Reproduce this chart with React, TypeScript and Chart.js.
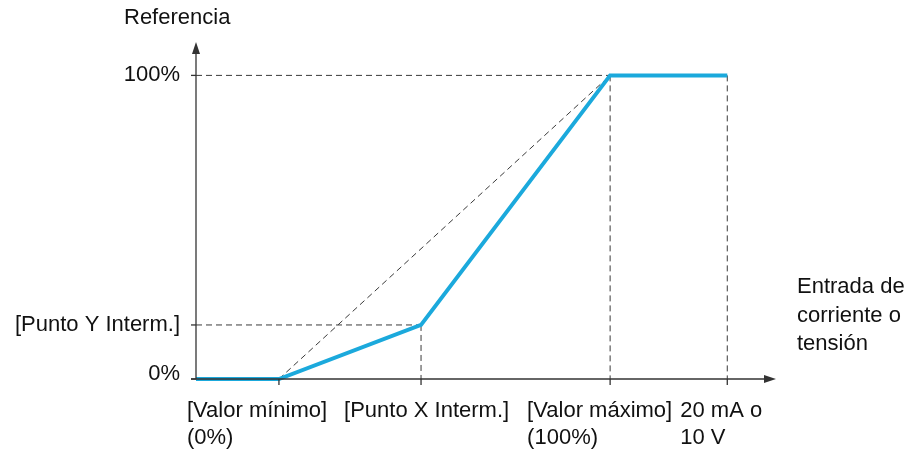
import React, { useEffect, useRef } from "react";
import { Chart, registerables } from "chart.js";

Chart.register(...registerables);

// x positions (relative units along the input axis, 0 = origin, 100 = arrow tip)
const xValorMinimo = 14.3;
const xPuntoXInterm = 38.8;
const xValorMaximo = 71.4;
const xFinal = 91.6; // 20 mA o 10 V
const xAxisMax = 100;

// y positions (% reference)
const yCero = 0;
const yPuntoYInterm = 17.8;
const yCien = 100;
const yAxisMax = 111;

const curveX = [0, xValorMinimo, xPuntoXInterm, xValorMaximo, xFinal];
const curveY = [yCero, yCero, yPuntoYInterm, yCien, yCien];

const yTickLabels = ["100%", "[Punto Y Interm.]", "0%"];
const yTickValues = [yCien, yPuntoYInterm, yCero];
const xTickLabels = [
  ["[Valor mínimo]", "(0%)"],
  ["[Punto X Interm.]"],
  ["[Valor máximo]", "(100%)"],
  ["20 mA o", "10 V"],
];
const xTickValues = [xValorMinimo, xPuntoXInterm, xValorMaximo, xFinal];
const yAxisTitle = "Referencia";
const xAxisTitle = ["Entrada de", "corriente o", "tensión"];

const BLUE = "#1ba9dc";
const GUIDE = "#3a3a3a";
const AXIS = "#333333";
const FONT = '22px "Liberation Sans", Arial, sans-serif';

function pts(xs: number[], ys: number[]) {
  return xs.map((x, i) => ({ x, y: ys[i] }));
}

const guideDs = (data: { x: number; y: number }[]) => ({
  data,
  borderColor: GUIDE,
  borderWidth: 1,
  borderDash: [6, 4],
  pointRadius: 0,
  fill: false,
  tension: 0,
  clip: false,
  order: 1,
});

const axesPlugin = {
  id: "axesPlugin",
  afterDatasetsDraw(chart: any) {
    const ctx = chart.ctx;
    const xs = chart.scales.x;
    const ys = chart.scales.y;
    const x0 = xs.getPixelForValue(0);
    const y0 = ys.getPixelForValue(0);
    const xEnd = xs.getPixelForValue(xAxisMax);
    const yTop = ys.getPixelForValue(yAxisMax);
    ctx.save();
    ctx.strokeStyle = AXIS;
    ctx.fillStyle = AXIS;
    ctx.lineWidth = 1.3;
    // y axis
    ctx.beginPath();
    ctx.moveTo(x0, y0);
    ctx.lineTo(x0, yTop + 10);
    ctx.stroke();
    ctx.beginPath();
    ctx.moveTo(x0, yTop);
    ctx.lineTo(x0 - 4, yTop + 12);
    ctx.lineTo(x0 + 4, yTop + 12);
    ctx.closePath();
    ctx.fill();
    // x axis
    ctx.beginPath();
    ctx.moveTo(x0 - 5, y0);
    ctx.lineTo(xEnd - 10, y0);
    ctx.stroke();
    ctx.beginPath();
    ctx.moveTo(xEnd, y0);
    ctx.lineTo(xEnd - 12, y0 - 4);
    ctx.lineTo(xEnd - 12, y0 + 4);
    ctx.closePath();
    ctx.fill();
    // y ticks
    yTickValues.forEach((v) => {
      const py = ys.getPixelForValue(v);
      ctx.beginPath();
      ctx.moveTo(x0 - 5, py);
      ctx.lineTo(x0, py);
      ctx.stroke();
    });
    // x ticks
    xTickValues.forEach((v) => {
      const px = xs.getPixelForValue(v);
      ctx.beginPath();
      ctx.moveTo(px, y0);
      ctx.lineTo(px, y0 + 6);
      ctx.stroke();
    });
    // labels
    ctx.fillStyle = "#111111";
    ctx.font = FONT;
    ctx.textBaseline = "middle";
    ctx.textAlign = "right";
    yTickValues.forEach((v, i) => {
      const py = ys.getPixelForValue(v);
      const off = v === yCero ? -5 : 0;
      ctx.fillText(yTickLabels[i], x0 - 16, py + off);
    });
    ctx.textAlign = "left";
    ctx.fillText(yAxisTitle, x0 - 72, 18);
    const xOffsets = [-92, -77, -83, -47];
    xTickValues.forEach((v, i) => {
      const px = xs.getPixelForValue(v);
      xTickLabels[i].forEach((line, j) => {
        ctx.fillText(line, px + xOffsets[i], y0 + 32 + j * 27);
      });
    });
    xAxisTitle.forEach((line, j) => {
      ctx.fillText(line, xEnd + 21, y0 - 92 + j * 28.5);
    });
    ctx.restore();
  },
};

export default function App() {
  const ref = useRef<HTMLCanvasElement | null>(null);
  useEffect(() => {
    if (!ref.current) return;
    const chart = new Chart(ref.current, {
      type: "line",
      data: {
        datasets: [
          {
            data: pts(curveX, curveY),
            borderColor: BLUE,
            borderWidth: 4,
            pointRadius: 0,
            fill: false,
            tension: 0,
            clip: false,
            order: 0,
          } as any,
          guideDs(pts([xValorMinimo, xValorMaximo], [yCero, yCien])),
          guideDs(pts([0, xValorMaximo], [yCien, yCien])),
          guideDs(pts([0, xPuntoXInterm], [yPuntoYInterm, yPuntoYInterm])),
          guideDs(pts([xPuntoXInterm, xPuntoXInterm], [yPuntoYInterm, yCero])),
          guideDs(pts([xValorMaximo, xValorMaximo], [yCien, yCero])),
          guideDs(pts([xFinal, xFinal], [yCien, yCero])),
        ],
      },
      options: {
        animation: false,
        responsive: true,
        maintainAspectRatio: false,
        layout: { padding: { left: 196, right: 136, top: 42, bottom: 80 } },
        plugins: { legend: { display: false }, tooltip: { enabled: false } },
        scales: {
          x: { type: "linear", min: 0, max: xAxisMax, display: false },
          y: { type: "linear", min: 0, max: yAxisMax, display: false },
        },
      },
      plugins: [axesPlugin],
    });
    return () => chart.destroy();
  }, []);
  return (
    <div style={{ position: "fixed", left: 0, top: 0, width: 912, height: 459, background: "#fff" }}>
      <canvas ref={ref} />
    </div>
  );
}
